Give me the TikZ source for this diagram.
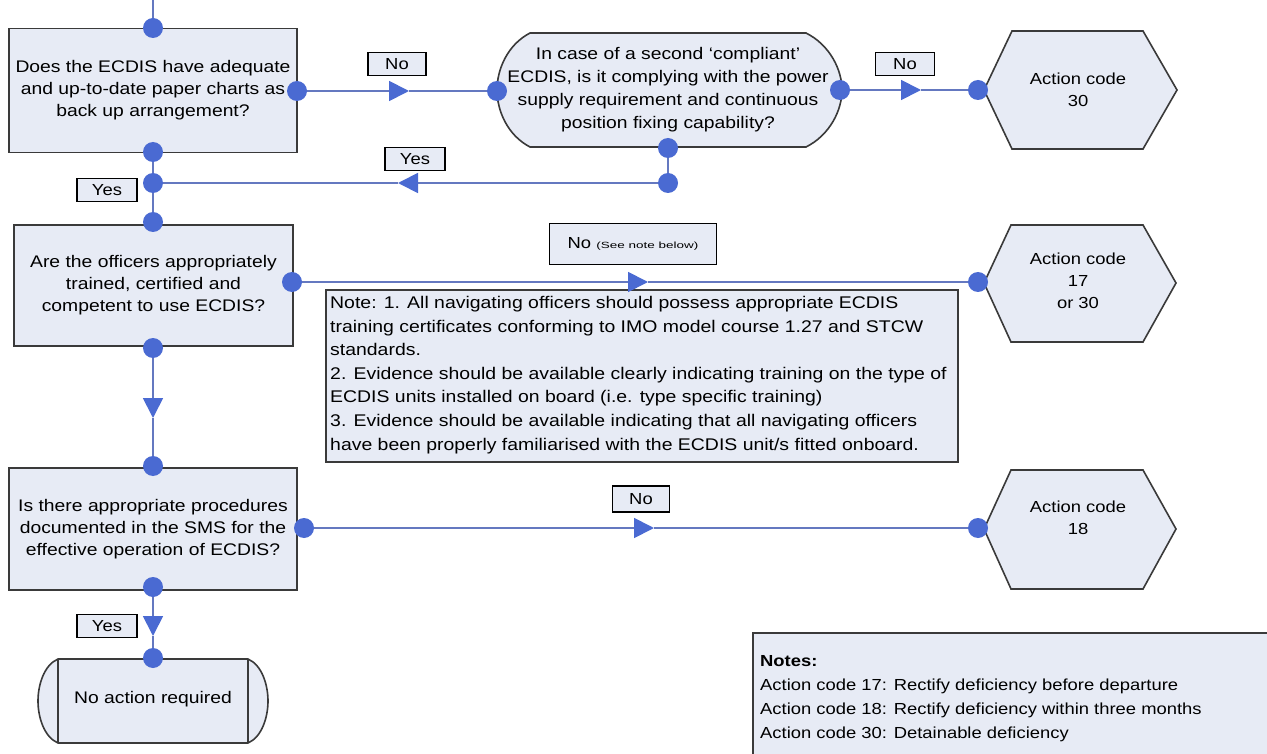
\documentclass[tikz,border=0pt]{standalone}
\usepackage{fontspec}
\setmainfont[FakeStretch=1.15]{Liberation Sans}
\newfontfamily\tinyfont[FakeStretch=1.5]{Liberation Sans}
\usetikzlibrary{arrows.meta}
\definecolor{boxfill}{HTML}{E7EBF5}
\definecolor{dotblue}{HTML}{4A6AD2}
\definecolor{linecol}{HTML}{6478C0}
\definecolor{edgecol}{HTML}{3A3A3A}
\begin{document}
\begin{tikzpicture}[x=1pt,y=-1pt,
  font=\fontsize{16.8}{22}\selectfont,
  shapeline/.style={draw=edgecol, line width=1.6pt, fill=boxfill},
  box/.style={shapeline, align=center, inner sep=0pt},
  txt/.style={align=center, inner sep=0pt},
  hextxt/.style={align=center, inner sep=0pt, font=\fontsize{16}{22}\selectfont},
  lbl/.style={draw=black, line width=1.4pt, fill=boxfill, inner sep=0pt, minimum height=23pt, font=\fontsize{16}{18}\selectfont},
  dot/.style={circle, fill=dotblue, inner sep=0pt, minimum size=20pt},
  conn/.style={draw=linecol, line width=1.8pt},
  tipline/.style={conn, -{Triangle[length=20pt,width=20pt,color=dotblue]}},
]
\useasboundingbox[fill=white] (0,0) rectangle (1267,754);

% ---------- decision boxes ----------
\node[box, minimum width=288pt, minimum height=124pt] (b1) at (153,90.5)
  {Does the ECDIS have adequate\\and up-to-date paper charts as\\back up arrangement?};
\node[box, minimum width=279pt, minimum height=121pt] (b2) at (153.5,285.5)
  {Are the officers appropriately\\trained, certified and\\competent to use ECDIS?};
\node[box, minimum width=288pt, minimum height=122pt] (b3) at (153,529)
  {Is there appropriate procedures\\documented in the SMS for the\\effective operation of ECDIS?};

% ---------- rounded decision ----------
\path[shapeline] (530,33) -- (806,33) .. controls (830,45) and (842,70) .. (842,90)
  .. controls (842,110) and (830,135) .. (806,147) -- (530,147)
  .. controls (507,135) and (497,110) .. (497,90) .. controls (497,70) and (507,45) .. (530,33) -- cycle;
\node[txt, font=\fontsize{16.8}{23}\selectfont] (e1) at (668,90)
  {In case of a second `compliant'\\ECDIS, is it complying with the power\\supply requirement and continuous\\position fixing capability?};

% ---------- hexagons ----------
\path[shapeline] (984,90) -- (1012,31) -- (1143,31) -- (1177,90) -- (1143,149) -- (1012,149) -- cycle;
\node[hextxt] (h1) at (1078,90) {Action code\\30};
\path[shapeline] (984,283) -- (1011,225) -- (1143,225) -- (1176,283) -- (1143,342) -- (1011,342) -- cycle;
\node[hextxt] (h2) at (1078,281) {Action code\\17\\or 30};
\path[shapeline] (984,529) -- (1011,470) -- (1143,470) -- (1176,529) -- (1143,589) -- (1011,589) -- cycle;
\node[hextxt] (h3) at (1078,518) {Action code\\18};

% ---------- terminal ----------
\path[shapeline] (58,659) -- (248,659) .. controls (262,665) and (268,685) .. (268,701)
  .. controls (268,717) and (262,737) .. (248,743) -- (58,743)
  .. controls (44,737) and (38,717) .. (38,701) .. controls (38,685) and (44,665) .. (58,659) -- cycle;
\draw[draw=edgecol, line width=1.6pt] (58,659) -- (58,743) (248,659) -- (248,743);
\node[txt] (t1) at (153,699) {No action required};

% ---------- note boxes ----------
\path[shapeline] (326,290) rectangle (958,462);
\node[align=left, inner sep=0pt, anchor=north west, font=\fontsize{16.9}{23.6}\selectfont] (n1) at (330,296)
  {Note: 1. All navigating officers should possess appropriate ECDIS\\
   training certificates conforming to IMO model course 1.27 and STCW\\
   standards.\\
   2. Evidence should be available clearly indicating training on the type of\\
   ECDIS units installed on board (i.e. type specific training)\\
   3. Evidence should be available indicating that all navigating officers\\
   have been properly familiarised with the ECDIS unit/s fitted onboard.};
\fill[boxfill] (753,633) rectangle (1267,754);
\draw[draw=edgecol, line width=1.6pt] (1267,633) -- (753,633) -- (753,754);
\node[align=left, inner sep=0pt, anchor=north west, font=\fontsize{16}{24}\selectfont] (n2) at (760,655)
  {\textbf{Notes:}\\
   Action code 17: Rectify deficiency before departure\\
   Action code 18: Rectify deficiency within three months\\
   Action code 30: Detainable deficiency};

% ---------- labels ----------
\node[lbl, minimum width=58pt] (l1) at (397,64) {No};
\node[lbl, minimum width=59pt] (l2) at (905,64) {No};
\node[lbl, minimum width=60pt] (l3) at (415,159) {Yes};
\node[lbl, minimum width=60pt] (l4) at (107,190) {Yes};
\node[lbl, minimum width=167pt, minimum height=41pt] (l5) at (633,244) {No {\tinyfont\fontsize{9}{10}\selectfont (See note below)}};
\node[lbl, minimum width=57pt, minimum height=26pt] (l6) at (641,499) {No};
\node[lbl, minimum width=60pt] (l7) at (107,626) {Yes};

% ---------- connectors ----------
\coordinate (top) at (153,0);
\coordinate (a1) at (409,91);
\coordinate (a2) at (921,90);
\coordinate (a3) at (398,183);
\coordinate (a4) at (648,282);
\coordinate (a5) at (153,418);
\coordinate (a6) at (654,528);
\coordinate (a7) at (153,636);

\coordinate (d1t) at (153,28);
\coordinate (d1r) at (297,91);
\coordinate (d1b) at (153,152);
\coordinate (dEl) at (497,91);
\coordinate (dEr) at (840,90);
\coordinate (dEb) at (668,148);
\coordinate (dH1) at (978,90);
\coordinate (dJl) at (153,183);
\coordinate (dJr) at (668,183);
\coordinate (d2t) at (153,222);
\coordinate (d2r) at (292,282);
\coordinate (d2b) at (153,348);
\coordinate (dH2) at (978,282);
\coordinate (d3t) at (153,466);
\coordinate (d3r) at (304,528);
\coordinate (d3b) at (153,587);
\coordinate (dH3) at (978,528);
\coordinate (dT) at (153,658);

\draw[conn] (top) -- (d1t);
\draw[tipline] (d1r) -- (a1); \draw[conn] (a1) -- (dEl);
\draw[tipline] (dEr) -- (a2); \draw[conn] (a2) -- (dH1);
\draw[conn] (dEb) -- (dJr);
\draw[tipline] (dJr) -- (a3); \draw[conn] (a3) -- (dJl);
\draw[conn] (d1b) -- (dJl) -- (d2t);
\draw[tipline] (d2r) -- (a4); \draw[conn] (a4) -- (dH2);
\draw[tipline] (d2b) -- (a5); \draw[conn] (a5) -- (d3t);
\draw[tipline] (d3r) -- (a6); \draw[conn] (a6) -- (dH3);
\draw[tipline] (d3b) -- (a7); \draw[conn] (a7) -- (dT);

% ---------- dots ----------
\foreach \c in {d1t,d1r,d1b,dEl,dEr,dEb,dH1,dJl,dJr,d2t,d2r,d2b,dH2,d3t,d3r,d3b,dH3,dT}
  \node[dot] (p\c) at (\c) {};
\end{tikzpicture}
\end{document}
